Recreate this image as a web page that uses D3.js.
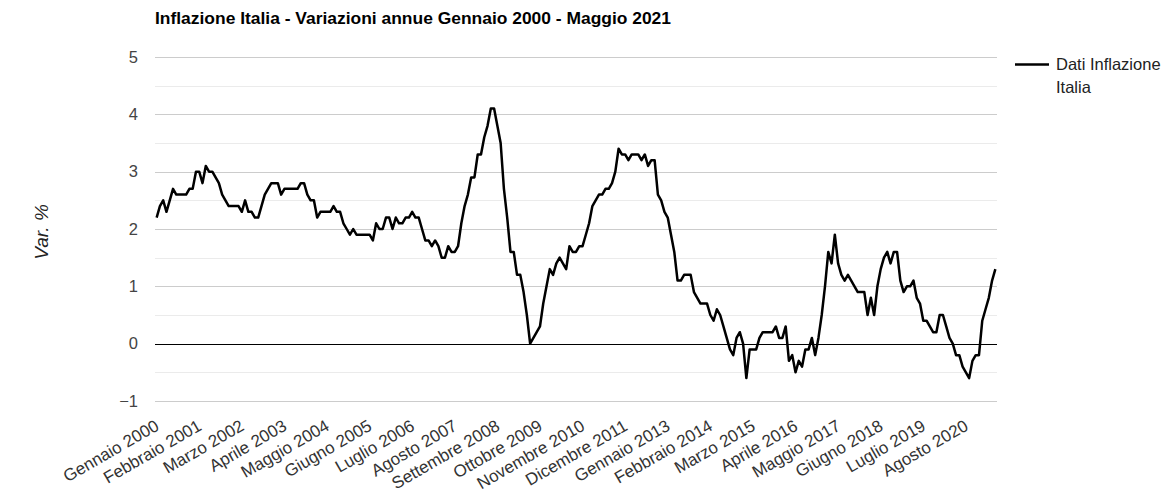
<!DOCTYPE html>
<html><head><meta charset="utf-8">
<script src="https://cdn.jsdelivr.net/npm/d3@7"></script>
<style>
html,body{margin:0;padding:0;background:#fff;}
text{font-family:Arial,"Liberation Sans",sans-serif;}
</style></head>
<body><svg id="c" width="1173" height="499"></svg>
<script>
const monthNames = ["Gennaio","Febbraio","Marzo","Aprile","Maggio","Giugno","Luglio","Agosto","Settembre","Ottobre","Novembre","Dicembre"];
const startYear = 2000;
const values2000 = [2.2,2.4,2.5,2.3,2.5,2.7,2.6,2.6,2.6,2.6,2.7,2.7];
const values2001 = [3.0,3.0,2.8,3.1,3.0,3.0,2.9,2.8,2.6,2.5,2.4,2.4];
const values2002 = [2.4,2.4,2.3,2.5,2.3,2.3,2.2,2.2,2.4,2.6,2.7,2.8];
const values2003 = [2.8,2.8,2.6,2.7,2.7,2.7,2.7,2.7,2.8,2.8,2.6,2.5];
const values2004 = [2.5,2.2,2.3,2.3,2.3,2.3,2.4,2.3,2.3,2.1,2.0,1.9];
const values2005 = [2.0,1.9,1.9,1.9,1.9,1.9,1.8,2.1,2.0,2.0,2.2,2.2];
const values2006 = [2.0,2.2,2.1,2.1,2.2,2.2,2.3,2.2,2.2,2.0,1.8,1.8];
const values2007 = [1.7,1.8,1.7,1.5,1.5,1.7,1.6,1.6,1.7,2.1,2.4,2.6];
const values2008 = [2.9,2.9,3.3,3.3,3.6,3.8,4.1,4.1,3.8,3.5,2.7,2.2];
const values2009 = [1.6,1.6,1.2,1.2,0.9,0.5,0.0,0.1,0.2,0.3,0.7,1.0];
const values2010 = [1.3,1.2,1.4,1.5,1.4,1.3,1.7,1.6,1.6,1.7,1.7,1.9];
const values2011 = [2.1,2.4,2.5,2.6,2.6,2.7,2.7,2.8,3.0,3.4,3.3,3.3];
const values2012 = [3.2,3.3,3.3,3.3,3.2,3.3,3.1,3.2,3.2,2.6,2.5,2.3];
const values2013 = [2.2,1.9,1.6,1.1,1.1,1.2,1.2,1.2,0.9,0.8,0.7,0.7];
const values2014 = [0.7,0.5,0.4,0.6,0.5,0.3,0.1,-0.1,-0.2,0.1,0.2,0.0];
const values2015 = [-0.6,-0.1,-0.1,-0.1,0.1,0.2,0.2,0.2,0.2,0.3,0.1,0.1];
const values2016 = [0.3,-0.3,-0.2,-0.5,-0.3,-0.4,-0.1,-0.1,0.1,-0.2,0.1,0.5];
const values2017 = [1.0,1.6,1.4,1.9,1.4,1.2,1.1,1.2,1.1,1.0,0.9,0.9];
const values2018 = [0.9,0.5,0.8,0.5,1.0,1.3,1.5,1.6,1.4,1.6,1.6,1.1];
const values2019 = [0.9,1.0,1.0,1.1,0.8,0.7,0.4,0.4,0.3,0.2,0.2,0.5];
const values2020 = [0.5,0.3,0.1,0.0,-0.2,-0.2,-0.4,-0.5,-0.6,-0.3,-0.2,-0.2];
const values2021 = [0.4,0.6,0.8,1.1,1.3];
const yTicks = [-1,0,1,2,3,4,5];
const labelEvery = 13;
const titleText = "Inflazione Italia - Variazioni annue Gennaio 2000 - Maggio 2021";
const seriesName = ["Dati Inflazione","Italia"];
const yAxisTitle = "Var. %";

const yearly = [values2000,values2001,values2002,values2003,values2004,values2005,values2006,values2007,values2008,values2009,values2010,values2011,values2012,values2013,values2014,values2015,values2016,values2017,values2018,values2019,values2020,values2021];
const data = [];
yearly.forEach((arr,yi)=>arr.forEach((v,mi)=>data.push({cat:monthNames[mi]+" "+(startYear+yi), v})));

const svg = d3.select("#c");
const L=155, R=997, T=57, B=401;
const x = d3.scalePoint().domain(data.map(d=>d.cat)).range([L,R]).padding(0.5);
const y = d3.scaleLinear().domain([-1,5]).range([B,T]);

// gridlines
const minor = d3.range(-1,5.01,0.5).filter(v=>!Number.isInteger(v));
svg.append("g").selectAll("line").data(minor).join("line")
  .attr("x1",L).attr("x2",R).attr("y1",d=>Math.round(y(d))+0.5).attr("y2",d=>Math.round(y(d))+0.5)
  .attr("stroke","#ebebeb").attr("stroke-width",1);
svg.append("g").selectAll("line").data(yTicks.filter(v=>v!==0)).join("line")
  .attr("x1",L).attr("x2",R).attr("y1",d=>Math.round(y(d))+0.5).attr("y2",d=>Math.round(y(d))+0.5)
  .attr("stroke","#cccccc").attr("stroke-width",1);

// y axis labels
const yAxis = d3.axisLeft(y).tickValues(yTicks).tickSize(0).tickPadding(0).tickFormat(d3.format("d"));
const gy = svg.append("g").attr("transform",`translate(${L-17},0)`).call(yAxis);
gy.select(".domain").remove();
gy.selectAll("text").attr("font-size",16.5).attr("fill","#444").attr("font-family","Arial,'Liberation Sans',sans-serif");

// x axis labels
const xTickVals = data.map(d=>d.cat).filter((d,i)=>i%labelEvery===0);
const xAxis = d3.axisBottom(x).tickValues(xTickVals).tickSize(0).tickPadding(0);
const gx = svg.append("g").attr("transform",`translate(0,${B})`).call(xAxis);
gx.select(".domain").remove();
gx.selectAll("text").attr("font-size",17).attr("fill","#333").attr("font-family","Arial,'Liberation Sans',sans-serif")
  .attr("text-anchor","end").attr("dy","0.35em").attr("y",0)
  .attr("transform","translate(0,23) rotate(-30)");

// zero baseline
svg.append("line").attr("x1",L).attr("x2",R).attr("y1",Math.round(y(0))+0.5).attr("y2",Math.round(y(0))+0.5)
  .attr("stroke","#000").attr("stroke-width",1);

// line
svg.append("path").datum(data)
  .attr("d", d3.line().x(d=>x(d.cat)).y(d=>y(d.v)))
  .attr("fill","none").attr("stroke","#000").attr("stroke-width",2.5).attr("stroke-linejoin","round");

// title
svg.append("text").attr("x",155).attr("y",24).attr("font-size",17).attr("font-weight","bold").attr("fill","#000")
  .attr("textLength",516).attr("lengthAdjust","spacingAndGlyphs").text(titleText);

// y title
svg.append("text").attr("transform",`translate(48,232) rotate(-90)`).attr("text-anchor","middle")
  .attr("font-size",19).attr("font-style","italic").attr("fill","#222").text(yAxisTitle);

// legend
svg.append("line").attr("x1",1015).attr("x2",1049).attr("y1",64.5).attr("y2",64.5).attr("stroke","#000").attr("stroke-width",2.5);
svg.append("text").attr("x",1056).attr("y",70).attr("font-size",16.5).attr("fill","#222")
  .selectAll("tspan").data(seriesName).join("tspan").attr("x",1056).attr("dy",(d,i)=>i?22.7:0).text(d=>d);
</script></body></html>
